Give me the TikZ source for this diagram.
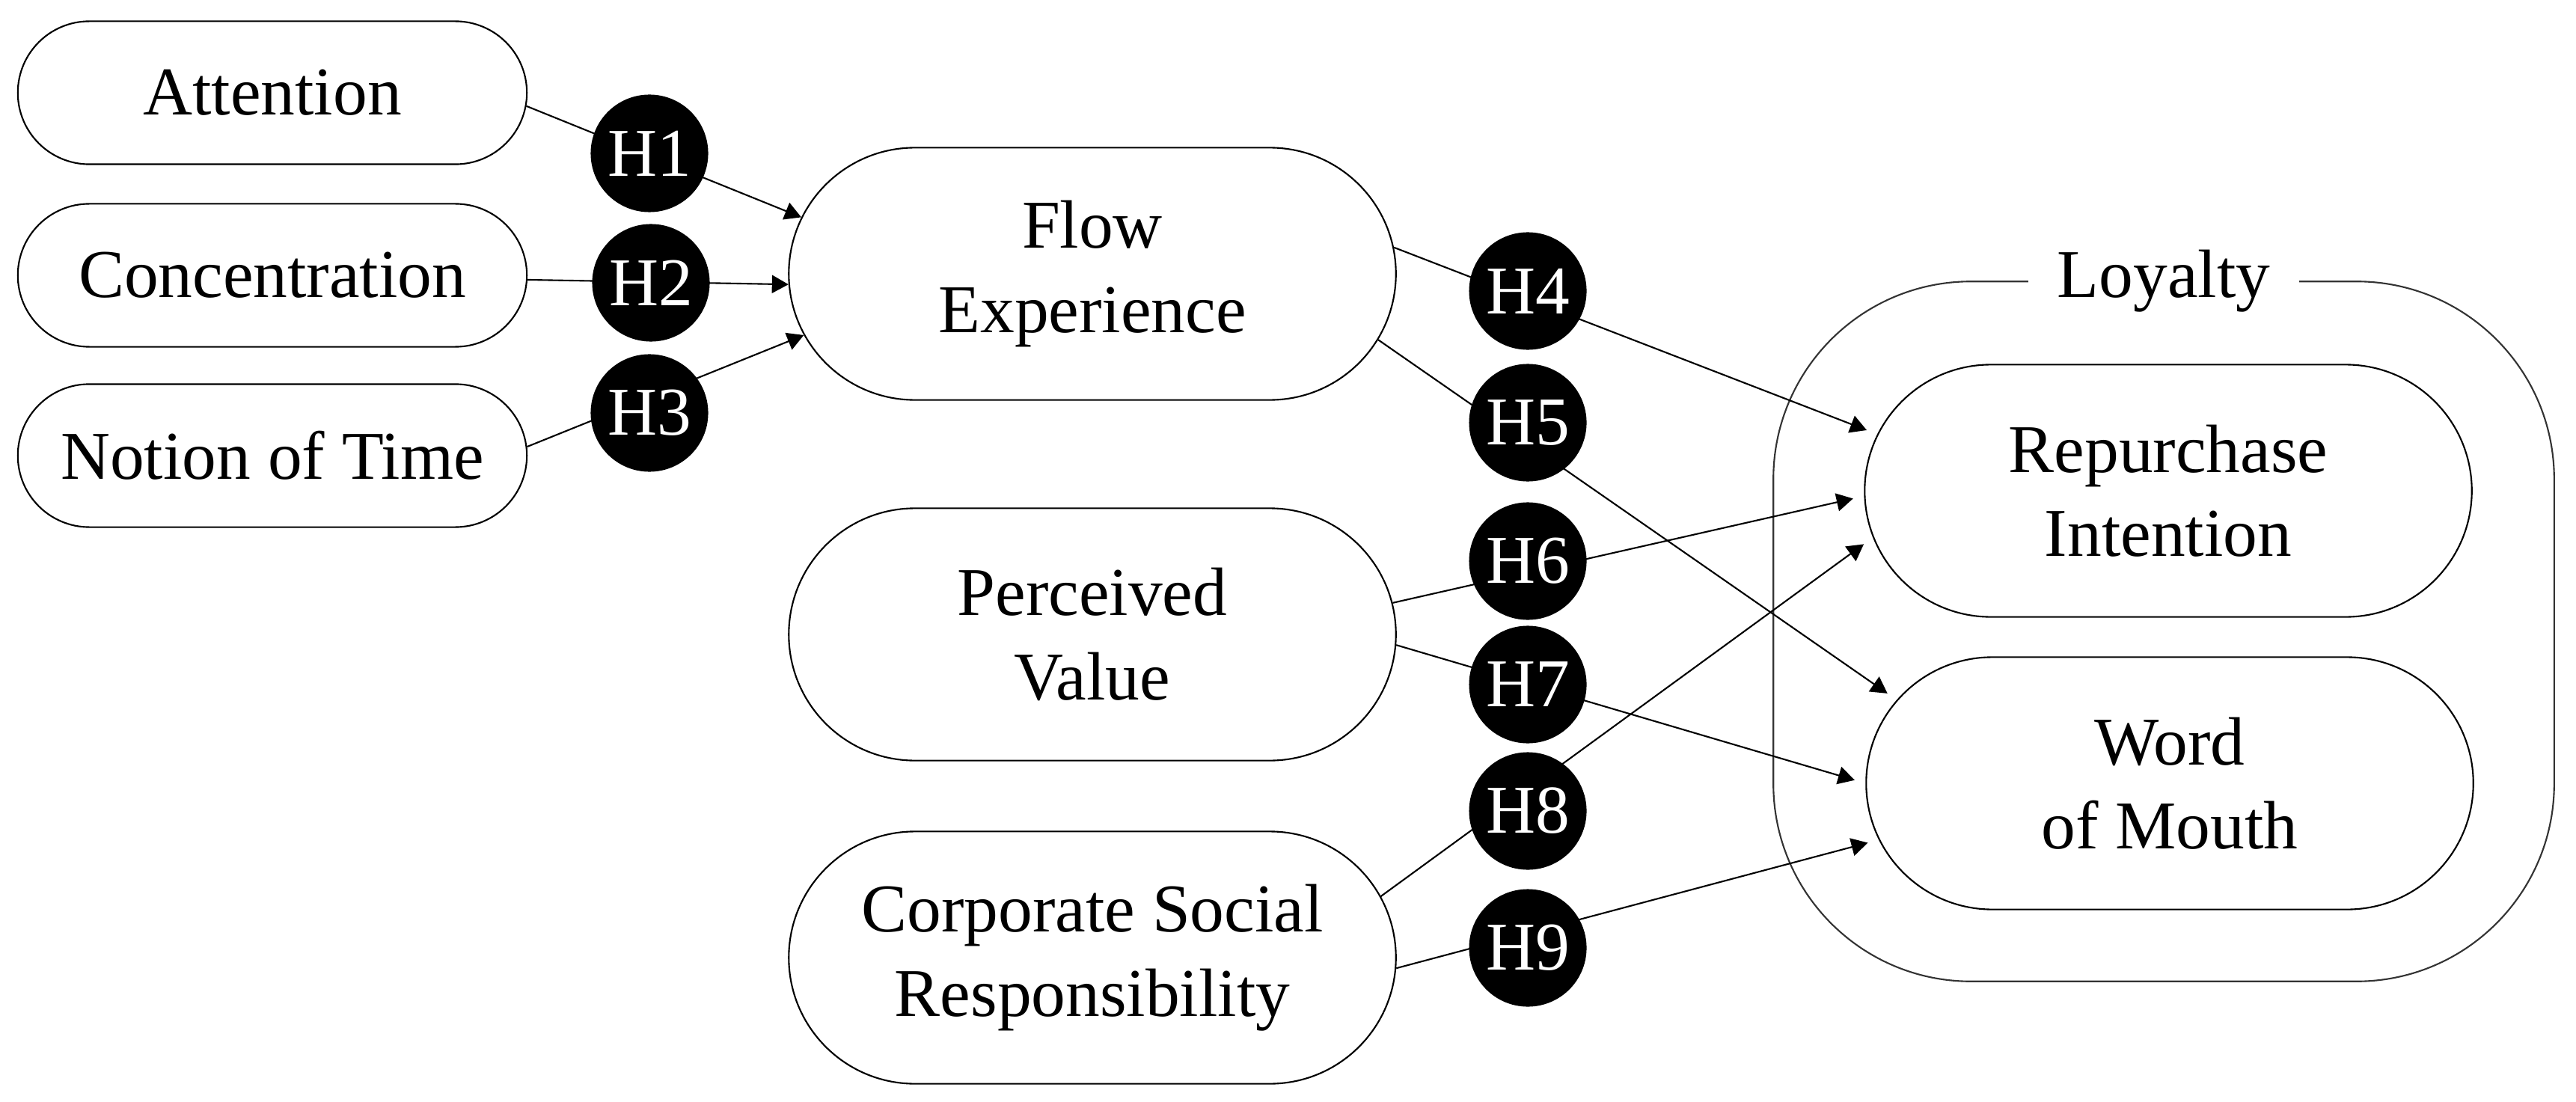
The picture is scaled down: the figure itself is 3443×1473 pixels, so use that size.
\documentclass[tikz,border=0pt]{standalone}
\usepackage{fontspec}
\setmainfont{Liberation Serif}
\usetikzlibrary{shapes.misc,arrows.meta}

\begin{document}
\begin{tikzpicture}[x=0.01cm, y=-0.01cm,
                    every node/.style={font=\fontsize{26}{32}\selectfont},
                    box/.style={draw, rounded rectangle, line width=0.6pt, align=center, inner sep=0pt},
                    smallbox/.style={box, minimum width=6.8cm, minimum height=1.91cm},
                    bigbox/.style={box, minimum width=8.11cm, minimum height=3.37cm},
                    hyp/.style={circle, fill=black, text=white, minimum size=1.57cm, inner sep=0pt},
                    link/.style={line width=0.6pt, -{Triangle[length=0.22cm, width=0.24cm]}},
                    gap/.style={shorten >=0.15cm}]
                    \useasboundingbox (0,0) rectangle (3443,1473);

                    % antecedents of flow
                    \node[smallbox] (att) at (364,124) {Attention};
                    \node[smallbox] (conc) at (364,368) {Concentration};
                    \node[smallbox] (time) at (364,609) {Notion of Time};

                    \node[bigbox] (flow) at (1460,366) {Flow\\Experience};
                    \node[bigbox] (value) at (1460,848) {Perceived\\Value};
                    \node[bigbox] (csr) at (1460,1280) {Corporate Social\\Responsibility};

                    % loyalty block
                    \node[draw=black!80, line width=0.6pt, rounded corners=2.64cm, minimum width=10.43cm, minimum height=9.35cm] (loyal) at (2892,844) {};
                    \node[bigbox] (rep) at (2898,656) {Repurchase\\Intention};
                    \node[bigbox] (wom) at (2900,1047) {Word\\of Mouth};
                    \node[fill=white, inner xsep=0.39cm, inner ysep=0pt] (loylabel) at (loyal.north) {Loyalty};

                    \draw[link] (att.-3) -- (flow.169);
                    \draw[link] (conc.-1) -- (flow.182);
                    \draw[link] (time.2) -- (flow.192);
                    \draw[link, gap] (flow.5) -- (rep.169);
                    \draw[link, gap] (flow.-13) -- (wom.163);
                    \draw[link, gap] (value.6) -- (rep.181);
                    \draw[link, gap] (value.-2) -- (wom.180);
                    \draw[link, gap] (csr.12) -- (rep.189);
                    \draw[link, gap] (csr.-2) -- (wom.191);

                    % hypotheses
                    \node[hyp] (h1) at (868,205) {H1};
                    \node[hyp] (h2) at (870,378) {H2};
                    \node[hyp] (h3) at (868,552) {H3};
                    \node[hyp] (h4) at (2042,389) {H4};
                    \node[hyp] (h5) at (2042,565) {H5};
                    \node[hyp] (h6) at (2042,750) {H6};
                    \node[hyp] (h7) at (2042,915) {H7};
                    \node[hyp] (h8) at (2042,1084) {H8};
                    \node[hyp] (h9) at (2042,1267) {H9};
                \end{tikzpicture}
\end{document}
